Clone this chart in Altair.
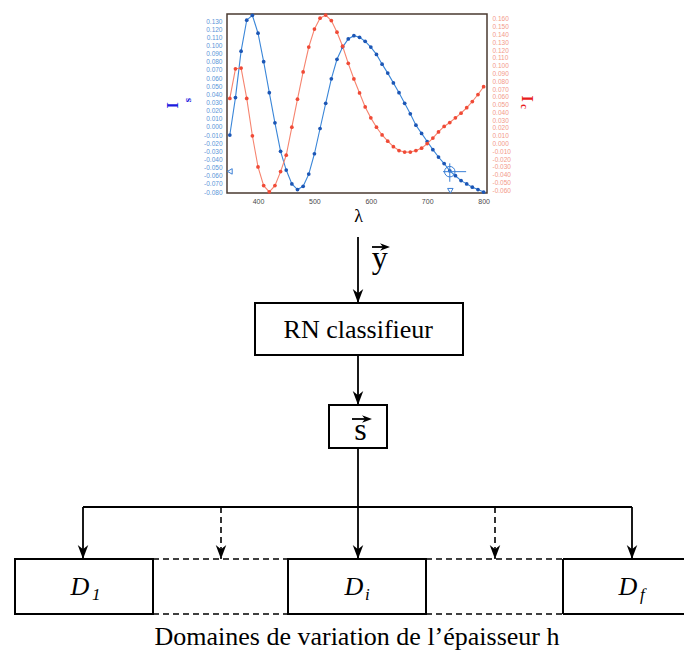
import altair as alt
import pandas as pd

# ---------------- spectrum data ----------------
wavelength = [350, 360, 370, 380, 390, 400, 410, 420, 430, 440,
              450, 460, 470, 480, 490, 500, 510, 520, 530, 540,
              550, 560, 570, 580, 590, 600, 610, 620, 630, 640,
              650, 660, 670, 680, 690, 700, 710, 720, 730, 740,
              750, 760, 770, 780, 790, 800]
Is_values = [-0.010, 0.036, 0.093, 0.131, 0.137, 0.115, 0.080, 0.042, 0.005, -0.030,
             -0.053, -0.070, -0.077, -0.073, -0.058, -0.033, -0.002, 0.029, 0.059, 0.083,
             0.098, 0.108, 0.112, 0.110, 0.105, 0.098, 0.089, 0.077, 0.066, 0.054,
             0.042, 0.029, 0.016, 0.002, -0.008, -0.018, -0.028, -0.037, -0.045, -0.054,
             -0.060, -0.066, -0.070, -0.074, -0.077, -0.080]
Ic_values = [0.058, 0.096, 0.097, 0.058, 0.010, -0.030, -0.054, -0.062, -0.054, -0.036,
             -0.015, 0.021, 0.057, 0.092, 0.124, 0.147, 0.161, 0.165, 0.158, 0.143,
             0.125, 0.103, 0.083, 0.065, 0.047, 0.033, 0.021, 0.011, 0.003, -0.004,
             -0.009, -0.011, -0.011, -0.009, -0.006, 0.000, 0.007, 0.015, 0.022, 0.027,
             0.033, 0.039, 0.046, 0.054, 0.063, 0.073]

lambda_ticks = [400, 500, 600, 700, 800]
Is_ticks = [-0.080, -0.070, -0.060, -0.050, -0.040, -0.030, -0.020, -0.010, 0.000,
            0.010, 0.020, 0.030, 0.040, 0.050, 0.060, 0.070, 0.080, 0.090, 0.100,
            0.110, 0.120, 0.130]
Ic_ticks = [-0.060, -0.050, -0.040, -0.030, -0.020, -0.010, 0.000, 0.010, 0.020,
            0.030, 0.040, 0.050, 0.060, 0.070, 0.080, 0.090, 0.100, 0.110, 0.120,
            0.130, 0.140, 0.150, 0.160]

lambda_domain = [345, 806]
Is_domain = [-0.0812, 0.1386]
Ic_domain = [-0.0635, 0.1664]

# cursor decorations of the spectrum viewer
cursor_lambda = [740]
cursor_Is = [-0.055]
cursor_h_lambda = [728, 769]
cursor_v_Is = [-0.0448, -0.0674]
marker_left = {"lam": [350], "Is": [-0.0547]}
marker_bottom = {"lam": [741], "Is": [-0.0785]}

# ---------------- flow diagram (diagram units = page pixels) ----------------
# closed boxes: RN classifieur, s, D1, Di
box_x0 = [255, 329, 15, 288]
box_x1 = [463, 387, 153, 426]
box_y0 = [303, 405, 559, 559]
box_y1 = [355, 448, 614, 614]

# box Df runs off the right edge: drawn as its three visible sides
open_x = [563, 563, 563]
open_y = [559, 614, 559]
open_x2 = [700, 700, 563]
open_y2 = [559, 614, 614]

solid_x = [358, 358, 358, 83, 83, 358, 632, 372, 352]
solid_y = [237, 355, 448, 507, 507, 507, 507, 247, 419]
solid_x2 = [358, 358, 358, 632, 83, 358, 632, 386, 369]
solid_y2 = [303, 405, 507, 507, 559, 559, 559, 247, 419]

dash_x = [221, 495, 153, 153, 426, 426]
dash_y = [507, 507, 559, 614, 559, 614]
dash_x2 = [221, 495, 288, 288, 563, 563]
dash_y2 = [559, 559, 559, 614, 559, 614]

head_down_x = [358, 358, 83, 221, 358, 495, 632]
head_down_y = [303, 405, 559, 559, 559, 559, 559]
head_right_x = [390, 372]
head_right_y = [247, 419]

plain_text = ["λ", "y", "RN classifieur", "s", "Domaines de variation de l’épaisseur h"]
plain_x = [358.5, 379.7, 358.3, 360.5, 357]
plain_y = [222, 268, 338, 440, 645]
plain_size = [18, 32, 26, 32, 26]

domain_text = ["D", "D", "D"]
domain_x = [80, 354, 628]
domain_sub = ["1", "i", "f"]
domain_sub_x = [92, 365, 640]
domain_y = [595, 595, 595]
domain_sub_y = [600, 600, 600]

axis_title_text = ["I", "s", "I", "c"]
axis_title_x = [173, 188, 527, 524]
axis_title_y = [105.5, 100, 98.5, 106.5]
axis_title_angle = [270, 270, 90, 90]
axis_title_size = [16, 11, 16, 11]
axis_title_color = ["#1c1ce0", "#1c1ce0", "#e81c1c", "#e81c1c"]

# ---------------- layout ----------------
W, H = 676, 644
X_RANGE = [219, 479]
Y_RANGE = [185, 6]
SERIF = "Liberation Serif"
ARROW = "M0,0 L-0.75,-2 L0,-1.4 L0.75,-2 Z"

dx = alt.Scale(domain=[8, 8 + W], range=[0, W], nice=False, zero=False)
dy = alt.Scale(domain=[8, 8 + H], range=[0, H], nice=False, zero=False)

def DX(f):
    return alt.X(f, type="quantitative", scale=dx, axis=None)

def DY(f):
    return alt.Y(f, type="quantitative", scale=dy, axis=None)

boxes = pd.DataFrame({"x0": box_x0, "x1": box_x1, "y0": box_y0, "y1": box_y1})
open_box = pd.DataFrame({"x": open_x, "y": open_y, "x2": open_x2, "y2": open_y2})
solid = pd.DataFrame({"x": solid_x, "y": solid_y, "x2": solid_x2, "y2": solid_y2})
dashed = pd.DataFrame({"x": dash_x, "y": dash_y, "x2": dash_x2, "y2": dash_y2})
heads_d = pd.DataFrame({"x": head_down_x, "y": head_down_y})
heads_r = pd.DataFrame({"x": head_right_x, "y": head_right_y})
ptext = pd.DataFrame({"t": plain_text, "x": plain_x, "y": plain_y, "s": plain_size})
dtext = pd.DataFrame({"t": domain_text, "x": domain_x, "y": domain_y})
stext = pd.DataFrame({"t": domain_sub, "x": domain_sub_x, "y": domain_sub_y})
ttext = pd.DataFrame({"t": axis_title_text, "x": axis_title_x, "y": axis_title_y,
                      "a": axis_title_angle, "s": axis_title_size, "c": axis_title_color})

box_layer = alt.Chart(boxes).mark_rect(fill="white", stroke="black", strokeWidth=2).encode(
    x=DX("x0"), x2="x1:Q", y=DY("y0"), y2="y1:Q")
open_layer = alt.Chart(open_box).mark_rule(color="black", strokeWidth=2).encode(
    x=DX("x"), y=DY("y"), x2="x2:Q", y2="y2:Q")
solid_layer = alt.Chart(solid).mark_rule(color="black", strokeWidth=1.8).encode(
    x=DX("x"), y=DY("y"), x2="x2:Q", y2="y2:Q")
dash_layer = alt.Chart(dashed).mark_rule(color="black", strokeWidth=1.6, strokeDash=[6, 4]).encode(
    x=DX("x"), y=DY("y"), x2="x2:Q", y2="y2:Q")
head_d_layer = alt.Chart(heads_d).mark_point(shape=ARROW, filled=True, size=196, color="black",
                                             opacity=1).encode(x=DX("x"), y=DY("y"))
head_r_layer = alt.Chart(heads_r).mark_point(shape=ARROW, filled=True, size=100, color="black",
                                             opacity=1, angle=270).encode(x=DX("x"), y=DY("y"))
ptext_layer = alt.Chart(ptext).mark_text(font=SERIF, color="black", align="center",
                                         baseline="alphabetic").encode(
    x=DX("x"), y=DY("y"), text="t:N", size=alt.Size("s:Q", scale=None))
dtext_layer = alt.Chart(dtext).mark_text(font=SERIF, fontStyle="italic", fontSize=26, color="black",
                                         align="center", baseline="alphabetic").encode(
    x=DX("x"), y=DY("y"), text="t:N")
stext_layer = alt.Chart(stext).mark_text(font=SERIF, fontStyle="italic", fontSize=17, color="black",
                                         align="left", baseline="alphabetic").encode(
    x=DX("x"), y=DY("y"), text="t:N")
ttext_layer = alt.Chart(ttext).mark_text(font=SERIF, fontWeight="bold", align="center",
                                         baseline="middle").encode(
    x=DX("x"), y=DY("y"), text="t:N", size=alt.Size("s:Q", scale=None),
    angle=alt.Angle("a:Q", scale=None), color=alt.Color("c:N", scale=None))

diagram = alt.layer(box_layer, open_layer, solid_layer, dash_layer, head_d_layer, head_r_layer,
                    ptext_layer, dtext_layer, stext_layer, ttext_layer)

# ---------------- spectrum plot ----------------
spec = pd.DataFrame({"lam": wavelength, "Is": Is_values, "Ic": Ic_values})
lam_scale = alt.Scale(domain=lambda_domain, range=X_RANGE, nice=False, zero=False)
is_scale = alt.Scale(domain=Is_domain, range=Y_RANGE, nice=False, zero=False)
ic_scale = alt.Scale(domain=Ic_domain, range=Y_RANGE, nice=False, zero=False)

LABEL = "(datum.value < 0 ? '-' : '') + format(abs(datum.value), '.3f')"
lam_axis = alt.Axis(orient="bottom", offset=-(H - Y_RANGE[0]), values=lambda_ticks, format="d",
                    labelColor="#4a4a4a", labelFont="Liberation Sans", labelFontSize=7,
                    ticks=False, domain=False, grid=False, labelPadding=4, title=None)
is_axis = alt.Axis(orient="left", offset=-X_RANGE[0], values=Is_ticks, labelExpr=LABEL,
                   labelColor="#5b95d9", labelFont="Liberation Sans", labelFontSize=6.5,
                   ticks=False, domain=False, grid=False, labelPadding=5, title=None,
                   labelOverlap=False)
ic_axis = alt.Axis(orient="right", offset=-(W - X_RANGE[1]), values=Ic_ticks, labelExpr=LABEL,
                   labelColor="#f39a8a", labelFont="Liberation Sans", labelFontSize=6.5,
                   ticks=False, domain=False, grid=False, labelPadding=5, title=None,
                   labelOverlap=False)

LX = alt.X("lam:Q", scale=lam_scale, axis=lam_axis)
IY = alt.Y("Is:Q", scale=is_scale, axis=is_axis)
CY = alt.Y("Ic:Q", scale=ic_scale, axis=ic_axis)

frame = pd.DataFrame({"lam": [lambda_domain[0]], "lam2": [lambda_domain[1]],
                      "Is": [Is_domain[0]], "Is2": [Is_domain[1]]})
frame_layer = alt.Chart(frame).mark_rect(fillOpacity=0, stroke="#4a3a30", strokeWidth=1.5).encode(
    x=LX, x2="lam2:Q", y=IY, y2="Is2:Q")

blue_line = alt.Chart(spec).mark_line(color="#3a86d8", strokeWidth=1.1).encode(x=LX, y=IY)
blue_pts = alt.Chart(spec).mark_point(shape="circle", filled=True, size=14, color="#1c56b5",
                                      opacity=1).encode(x=LX, y=IY)

cur = pd.DataFrame({"lam": cursor_lambda, "Is": cursor_Is})
cur_h = pd.DataFrame({"lam": [cursor_h_lambda[0]], "lam2": [cursor_h_lambda[1]], "Is": cursor_Is})
cur_v = pd.DataFrame({"lam": cursor_lambda, "Is": [cursor_v_Is[0]], "Is2": [cursor_v_Is[1]]})
cur_circle = alt.Chart(cur).mark_point(shape="circle", filled=False, size=110, color="#3a7fd6",
                                       strokeWidth=1, opacity=1).encode(x=LX, y=IY)
cur_h_layer = alt.Chart(cur_h).mark_rule(color="#3a7fd6", strokeWidth=1).encode(x=LX, x2="lam2:Q", y=IY)
cur_v_layer = alt.Chart(cur_v).mark_rule(color="#3a7fd6", strokeWidth=1).encode(x=LX, y=IY, y2="Is2:Q")
mk_left = alt.Chart(pd.DataFrame(marker_left)).mark_point(shape="triangle-left", filled=False, size=30,
                                                          color="#3a7fd6", strokeWidth=1,
                                                          opacity=1).encode(x=LX, y=IY)
mk_bottom = alt.Chart(pd.DataFrame(marker_bottom)).mark_point(shape="triangle-down", filled=False, size=30,
                                                              color="#3a7fd6", strokeWidth=1,
                                                              opacity=1).encode(x=LX, y=IY)

red_line = alt.Chart(spec).mark_line(color="#f6846f", strokeWidth=1.1).encode(x=LX, y=CY)
red_pts = alt.Chart(spec).mark_point(shape="circle", filled=True, size=14, color="#f04a36",
                                     opacity=1).encode(x=LX, y=CY)

is_group = alt.layer(frame_layer, blue_line, blue_pts, cur_circle, cur_h_layer, cur_v_layer,
                     mk_left, mk_bottom)
ic_group = alt.layer(red_line, red_pts)
plot = alt.layer(is_group, ic_group).resolve_scale(y="independent")

chart = alt.layer(diagram, plot).resolve_scale(x="independent", y="independent").properties(
    width=W, height=H, padding=0, autosize=alt.AutoSizeParams(type="none")
).configure_view(strokeWidth=0)

chart.save("out.html", embed_options={"renderer": "svg", "actions": False})
